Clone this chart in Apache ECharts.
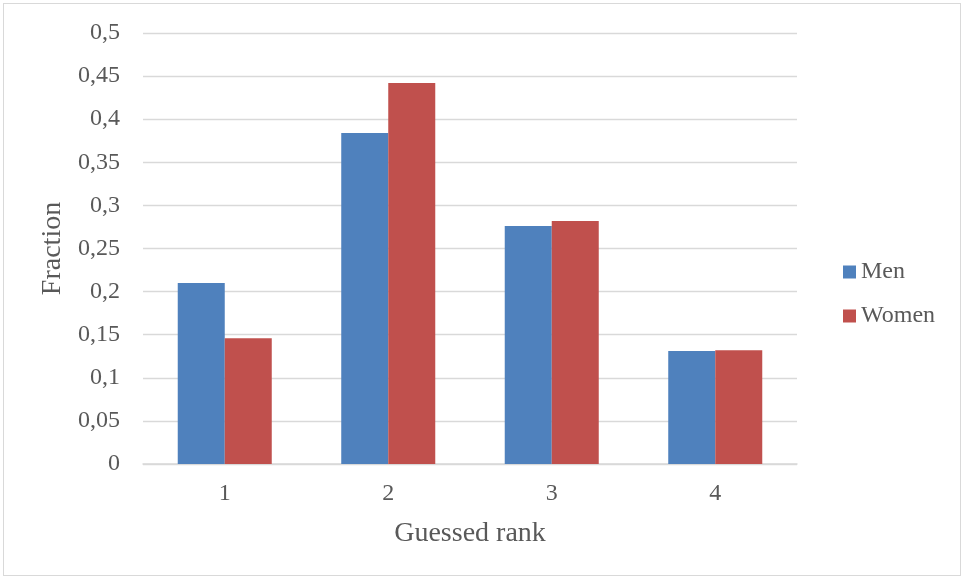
<!DOCTYPE html>
<html><head><meta charset="utf-8">
<script src="https://cdn.jsdelivr.net/npm/echarts@6/dist/echarts.min.js"></script>
<style>html,body{margin:0;padding:0;background:#fff}#c{width:965px;height:579px}
#frame{position:absolute;left:3px;top:3px;width:958px;height:573px;border:1px solid #d9d9d9;box-sizing:border-box;pointer-events:none}</style>
</head><body><div id="c"></div><div id="frame"></div>
<script>
const categories = ['1', '2', '3', '4'];
const men = [0.210, 0.384, 0.276, 0.131];
const women = [0.146, 0.442, 0.282, 0.132];
const yTicks = [0, 0.05, 0.1, 0.15, 0.2, 0.25, 0.3, 0.35, 0.4, 0.45, 0.5];

const font = 'Liberation Serif';
const txt = '#595959';
const chart = echarts.init(document.getElementById('c'), null, {renderer: 'canvas'});
chart.setOption({
  animation: false,
  textStyle: {fontFamily: font},
  grid: {left: 143, right: 168, top: 33, bottom: 115, containLabel: false},
  legend: {
    orient: 'vertical', left: 838, top: 255, itemWidth: 13, itemHeight: 13, itemGap: 20,
    icon: 'rect',
    textStyle: {fontFamily: font, fontSize: 24, color: txt},
    data: ['Men', 'Women']
  },
  xAxis: {
    type: 'category', data: categories,
    name: 'Guessed rank', nameLocation: 'middle', nameGap: 56,
    nameTextStyle: {fontFamily: font, fontSize: 28, color: txt},
    axisLine: {lineStyle: {color: '#d9d9d9', width: 1.5}},
    axisTick: {show: false},
    axisLabel: {fontFamily: font, fontSize: 24, color: txt, margin: 18}
  },
  yAxis: {
    type: 'value', min: 0, max: 0.5, interval: 0.05,
    name: 'Fraction', nameLocation: 'middle', nameGap: 71,
    nameTextStyle: {fontFamily: font, fontSize: 28, color: txt},
    axisLine: {show: false}, axisTick: {show: false},
    splitLine: {lineStyle: {color: '#d9d9d9', width: 1.3}},
    axisLabel: {fontFamily: font, fontSize: 24, color: txt, margin: 23,
      formatter: v => {
        const t = yTicks.find(x => Math.abs(x - v) < 1e-9);
        return String(t !== undefined ? t : v).replace('.', ',');
      }}
  },
  series: [
    {name: 'Men', type: 'bar', data: men, barGap: '0%', barCategoryGap: '42.5%',
     itemStyle: {color: '#4f81bd'}},
    {name: 'Women', type: 'bar', data: women, barGap: '0%', barCategoryGap: '42.5%',
     itemStyle: {color: '#c0504d'}}
  ]
});
</script></body></html>
